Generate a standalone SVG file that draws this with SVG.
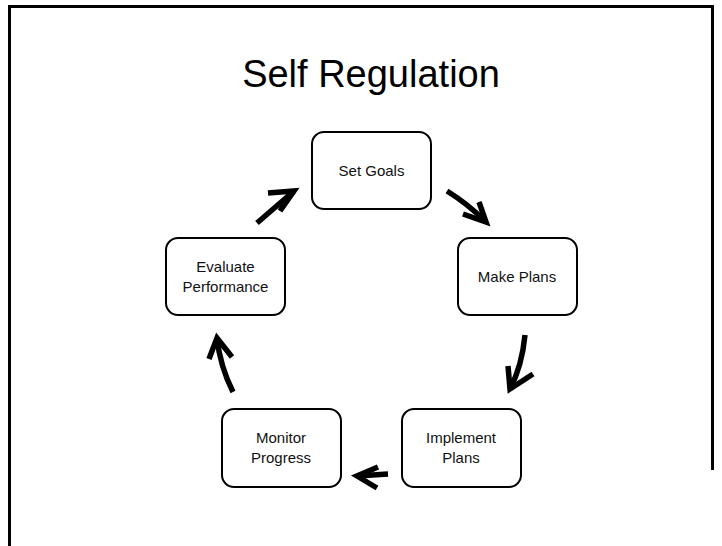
<svg xmlns="http://www.w3.org/2000/svg" width="722" height="546" viewBox="0 0 722 546">
<style>
.box{fill:#fff;stroke:#000;stroke-width:2}
.lbl{font-family:"Liberation Sans",Arial,sans-serif;font-size:15px;fill:#111;text-anchor:middle}
.title{font-family:"Liberation Sans",Arial,sans-serif;font-size:38px;fill:#000;text-anchor:middle}
.arr{fill:none;stroke:#000;stroke-width:5.5;stroke-linecap:butt;stroke-linejoin:miter}
</style>
<rect width="722" height="546" fill="#fff"/>
<g id="frame" fill="none" stroke="#000">
<path d="M9.5 546 V6.5 H712.5 V470" stroke-width="3"/>
</g>
<text class="title" x="371" y="87">Self Regulation</text>
<g id="set-goals"><rect class="box" x="312" y="132" width="119" height="77" rx="12"/><text class="lbl" x="371.5" y="176">Set Goals</text></g>
<g id="make-plans"><rect class="box" x="458" y="238" width="119" height="77" rx="12"/><text class="lbl" x="517" y="282">Make Plans</text></g>
<g id="implement-plans"><rect class="box" x="402" y="409" width="119" height="78" rx="12"/><text class="lbl" x="461" y="443">Implement</text><text class="lbl" x="461" y="463">Plans</text></g>
<g id="monitor-progress"><rect class="box" x="222" y="409" width="119" height="78" rx="12"/><text class="lbl" x="281" y="443">Monitor</text><text class="lbl" x="281" y="463">Progress</text></g>
<g id="evaluate-performance"><rect class="box" x="166" y="238" width="119" height="77" rx="12"/><text class="lbl" x="225.5" y="272">Evaluate</text><text class="lbl" x="225.5" y="292">Performance</text></g>
<g id="connectors">
<path class="arr" d="M447 191 Q468 204 486 222"/><polyline class="arr" points="479,202 486,222 463,214"/>
<path class="arr" d="M525 335 Q522 366 510 389"/><polyline class="arr" points="508,366 510,389 533,374"/>
<path class="arr" d="M388 474 L357 476"/><polyline class="arr" points="378,467 357,476 377,488"/>
<path class="arr" d="M233 392 Q220 366 217 338"/><polyline class="arr" points="209,359 217,338 232,357"/>
<path class="arr" d="M257 223 L294 191"/><polyline class="arr" points="268,193 294,191 280,211"/>
</g>
</svg>
